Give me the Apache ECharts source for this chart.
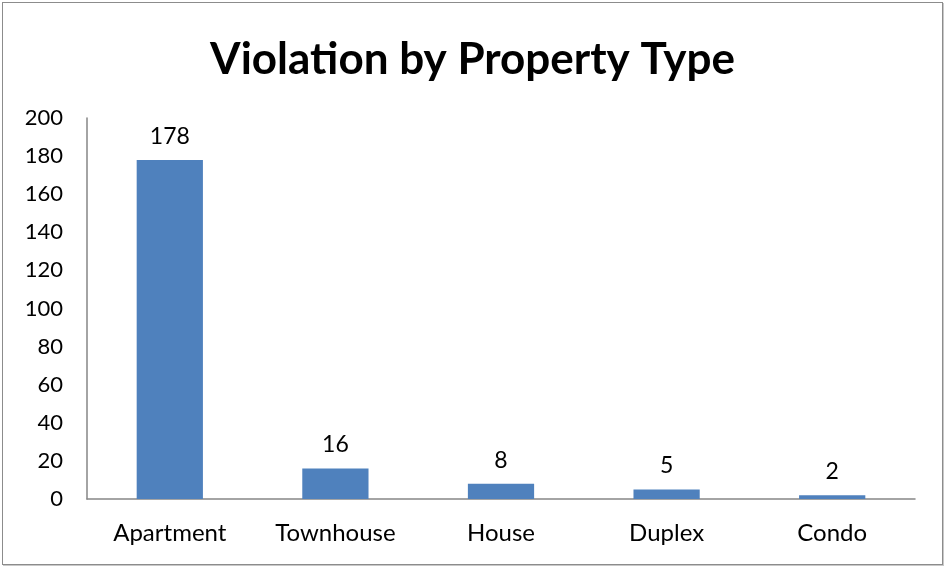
<!DOCTYPE html>
<html>
<head>
<meta charset="utf-8">
<style>
  html, body { margin: 0; padding: 0; background: #fff; }
  #chart {
    position: absolute; left: 2px; top: 2px;
    width: 939px; height: 561px;
    border: 1px solid #8c8c8c;
    box-shadow: 1px 1px 0 #c8c8c8;
  }
</style>
<script src="https://cdn.jsdelivr.net/npm/echarts@6/dist/echarts.min.js"></script>
</head>
<body>
<div id="chart"></div>
<script>
  // chart data
  var categories = ['Apartment', 'Townhouse', 'House', 'Duplex', 'Condo'];
  var violations = [178, 16, 8, 5, 2];
  var yTicks = { min: 0, max: 200, step: 20 };

  var font = 'Lato, "Open Sans", sans-serif';
  var myChart = echarts.init(document.getElementById('chart'));
  myChart.setOption({
    animation: false,
    title: {
      text: 'Violation by Property Type',
      left: 'center',
      top: 30,
      textStyle: { fontFamily: font, fontSize: 44, fontWeight: 'bold', color: '#000' }
    },
    grid: { left: 84, right: 27, top: 115, bottom: 65 },
    xAxis: {
      type: 'category',
      data: categories,
      axisLine: { lineStyle: { color: '#868686', width: 1.5 } },
      axisTick: { show: false },
      axisLabel: { fontFamily: font, fontSize: 24, color: '#000', margin: 22 }
    },
    yAxis: {
      type: 'value',
      min: yTicks.min,
      max: yTicks.max,
      interval: yTicks.step,
      axisLine: { show: true, lineStyle: { color: '#868686', width: 1.5 } },
      axisTick: { show: false },
      splitLine: { show: false },
      axisLabel: { fontFamily: font, fontSize: 22, color: '#000', margin: 24 }
    },
    series: [{
      type: 'bar',
      data: violations,
      barWidth: '40%',
      itemStyle: { color: '#4F81BD' },
      label: {
        show: true,
        position: 'top',
        distance: 12,
        fontFamily: font,
        fontSize: 23,
        color: '#000'
      }
    }]
  });
</script>
</body>
</html>
